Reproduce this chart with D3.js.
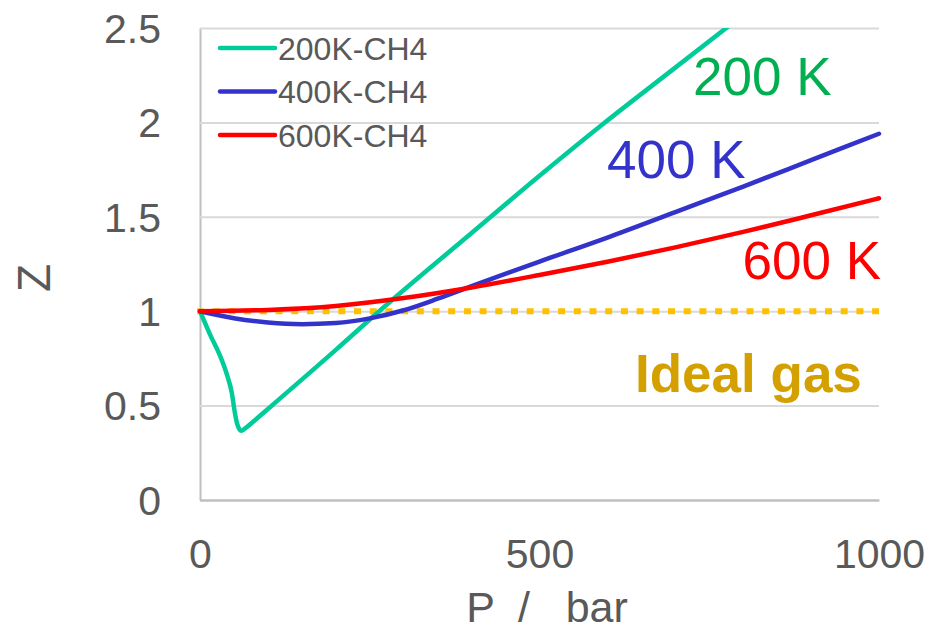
<!DOCTYPE html>
<html>
<head>
<meta charset="utf-8">
<script src="https://cdn.jsdelivr.net/npm/d3@7"></script>
<style>
  html, body { margin: 0; padding: 0; background: #fff; }
  svg { display: block; font-family: "Liberation Sans", Arial, sans-serif; }
</style>
</head>
<body>
<svg id="chart" width="940" height="632"></svg>
<script>
// Compressibility factor Z of methane vs pressure at three temperatures
const pressure200 = [0, 15, 30, 40, 47, 51, 55, 58, 61, 66, 80, 100, 200, 263, 400, 500, 593, 700, 800];
const z200       = [1.0, 0.875, 0.76, 0.66, 0.565, 0.47, 0.40, 0.375, 0.367, 0.378, 0.42, 0.482, 0.795, 0.997, 1.414, 1.717, 1.99, 2.29, 2.57];

const pressure400 = [0, 50, 100, 150, 200, 250, 300, 350, 400, 500, 600, 700, 800, 900, 1000];
const z400       = [1.0, 0.963, 0.94, 0.931, 0.937, 0.962, 1.005, 1.066, 1.133, 1.263, 1.39, 1.525, 1.66, 1.80, 1.94];

const pressure600 = [0, 100, 200, 300, 400, 500, 600, 700, 800, 900, 1000];
const z600       = [1.0, 1.007, 1.028, 1.07, 1.126, 1.192, 1.262, 1.338, 1.42, 1.508, 1.598];

const pressureIdeal = [0, 1000];
const zIdeal        = [1, 1];

const seriesNames = ["200K-CH4", "400K-CH4", "600K-CH4"];
const seriesColors = ["#00CC99", "#3333CC", "#FF0000"];
const curveLabels = ["200 K", "400 K", "600 K"];
const curveLabelColors = ["#00B050", "#3333CC", "#FF0000"];
const idealLabel = "Ideal gas";

const yTicks = [0, 0.5, 1, 1.5, 2, 2.5];
const yTickLabels = ["0", "0.5", "1", "1.5", "2", "2.5"];
const xTicks = [0, 500, 1000];
const xTickLabels = ["0", "500", "1000"];
const xTitle = "P  /   bar";
const yTitle = "Z";

const svg = d3.select("#chart");
const plotLeft = 200, plotRight = 879, plotTop = 28, plotBottom = 500;

const x = d3.scaleLinear().domain([0, 1000]).range([plotLeft, plotRight]);
const y = d3.scaleLinear().domain([0, 2.5]).range([plotBottom, plotTop]);

const textColor = "#595959";

// y axis with horizontal gridlines
const yAxis = svg.append("g")
  .attr("transform", `translate(${plotLeft},0)`)
  .call(d3.axisLeft(y)
    .tickValues(yTicks)
    .tickFormat((d, i) => yTickLabels[i])
    .tickSizeInner(-(plotRight - plotLeft))
    .tickSizeOuter(0)
    .tickPadding(39));
yAxis.select(".domain").attr("stroke", "#BFBFBF").attr("stroke-width", 2);
yAxis.selectAll(".tick line")
  .attr("stroke", d => d === 0 ? "#BFBFBF" : "#D9D9D9")
  .attr("stroke-width", 2);
yAxis.selectAll(".tick text")
  .attr("fill", textColor)
  .attr("font-size", 41)
  .attr("font-family", "Liberation Sans, Arial, sans-serif")
  .attr("dy", "0.35em");

// x axis
const xAxis = svg.append("g")
  .attr("transform", `translate(0,${plotBottom})`)
  .call(d3.axisBottom(x)
    .tickValues(xTicks)
    .tickFormat((d, i) => xTickLabels[i])
    .tickSize(0)
    .tickPadding(39));
xAxis.select(".domain").attr("stroke", "#BFBFBF").attr("stroke-width", 2);
xAxis.selectAll(".tick text")
  .attr("fill", textColor)
  .attr("font-size", 41)
  .attr("font-family", "Liberation Sans, Arial, sans-serif");

// axis titles
svg.append("text")
  .attr("x", 547).attr("y", 622)
  .attr("text-anchor", "middle")
  .attr("fill", textColor)
  .attr("font-size", 43)
  .style("white-space", "pre")
  .text(xTitle);

svg.append("text")
  .attr("transform", `translate(50,${(plotTop + plotBottom) / 2 + 14}) rotate(-90)`)
  .attr("text-anchor", "middle")
  .attr("fill", textColor)
  .attr("font-size", 46)
  .text(yTitle);

// clip to plot area
svg.append("defs").append("clipPath").attr("id", "plot-clip")
  .append("rect")
  .attr("x", plotLeft - 10).attr("y", plotTop)
  .attr("width", plotRight - plotLeft + 20).attr("height", plotBottom - plotTop);

const plot = svg.append("g").attr("clip-path", "url(#plot-clip)");

const line = d3.line()
  .x(d => x(d[0]))
  .y(d => y(d[1]))
  .curve(d3.curveMonotoneX);

// ideal gas reference
plot.append("path")
  .datum(d3.zip(pressureIdeal, zIdeal))
  .attr("d", line)
  .attr("fill", "none")
  .attr("stroke", "#FFC000")
  .attr("stroke-width", 6)
  .attr("stroke-linecap", "square")
  .attr("stroke-dasharray", "1,14.7");

const series = [
  d3.zip(pressure200, z200),
  d3.zip(pressure400, z400),
  d3.zip(pressure600, z600)
];

series.forEach((pts, i) => {
  plot.append("path")
    .datum(pts)
    .attr("d", line)
    .attr("fill", "none")
    .attr("stroke", seriesColors[i])
    .attr("stroke-width", 4.5)
    .attr("stroke-linejoin", "round")
    .attr("stroke-linecap", "round");
});

// curve labels
const labelPos = [
  { x: 693, y: 95, anchor: "start" },
  { x: 607, y: 178, anchor: "start" },
  { x: 881, y: 279, anchor: "end" }
];
curveLabels.forEach((t, i) => {
  svg.append("text")
    .attr("x", labelPos[i].x).attr("y", labelPos[i].y)
    .attr("text-anchor", labelPos[i].anchor)
    .attr("fill", curveLabelColors[i])
    .attr("font-size", 53)
    .text(t);
});

svg.append("text")
  .attr("x", 635).attr("y", 392)
  .attr("fill", "#D4A000")
  .attr("font-size", 53)
  .attr("font-weight", "bold")
  .text(idealLabel);

// legend
const legend = svg.append("g").attr("transform", "translate(220,48)");
seriesNames.forEach((name, i) => {
  const g = legend.append("g").attr("transform", `translate(0,${i * 43.5})`);
  g.append("line")
    .attr("x1", 0).attr("x2", 55)
    .attr("stroke", seriesColors[i])
    .attr("stroke-width", 4.5)
    .attr("stroke-linecap", "round");
  g.append("text")
    .attr("x", 58).attr("y", 0)
    .attr("dy", "0.36em")
    .attr("fill", textColor)
    .attr("font-size", 32)
    .text(name);
});
</script>
</body>
</html>
